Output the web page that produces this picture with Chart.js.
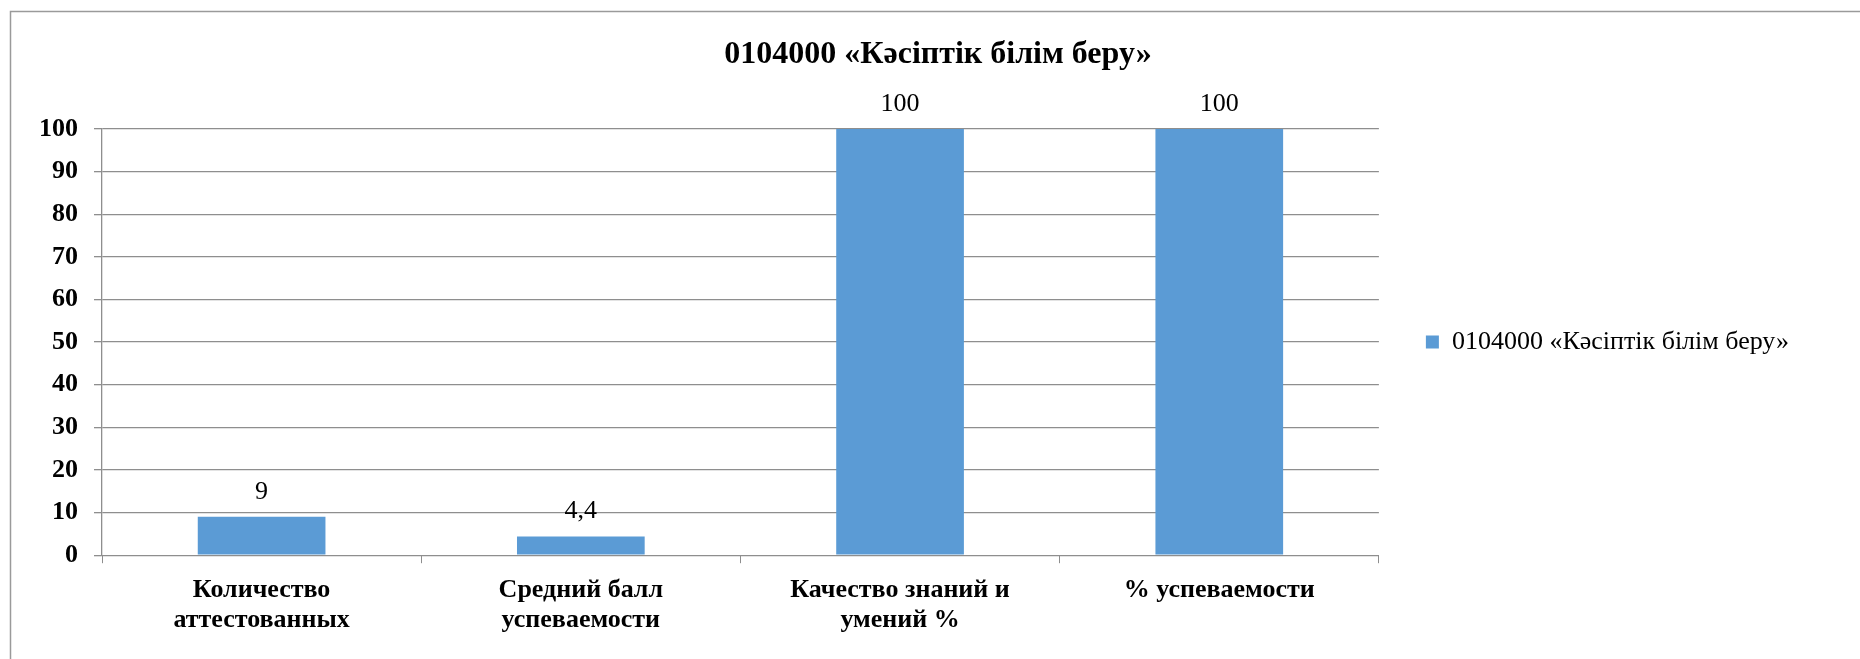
<!DOCTYPE html>
<html>
<head>
<meta charset="utf-8">
<script src="https://cdn.jsdelivr.net/npm/chart.js@4"></script>
<style>
  html, body { margin: 0; padding: 0; background: #fff; }
</style>
</head>
<body>
<canvas id="chart" width="1860" height="659"></canvas>
<script>
// Chart data
const categories = [
    ['Количество', 'аттестованных'],
    ['Средний балл', 'успеваемости'],
    ['Качество знаний и', 'умений %'],
    ['% успеваемости']
];
const seriesName = '0104000 «Кәсіптік білім беру»';
const seriesValues = [9, 4.4, 100, 100];
const yTicks = [0, 10, 20, 30, 40, 50, 60, 70, 80, 90, 100];

const serif = '"Liberation Serif", "Times New Roman", serif';
const gridColor = '#8e8e8e';

// white page, grey frame and the chart title (centred on the whole frame, not the plot)
const framePlugin = {
    id: 'frame',
    beforeDraw(chart) {
        const c = chart.ctx;
        c.save();
        c.fillStyle = '#fff';
        c.fillRect(0, 0, chart.width, chart.height);
        c.strokeStyle = '#9a9a9a';
        c.lineWidth = 1.5;
        c.beginPath();
        c.moveTo(10.5, chart.height + 2);
        c.lineTo(10.5, 11.5);
        c.lineTo(chart.width + 2, 11.5);
        c.stroke();

        c.font = 'bold 32px ' + serif;
        c.fillStyle = '#000';
        c.textAlign = 'center';
        c.textBaseline = 'middle';
        c.fillText(seriesName, 938, 55);
        c.restore();
    }
};

// value labels above the bars
const valueLabels = {
    id: 'valueLabels',
    afterDatasetsDraw(chart) {
        const c = chart.ctx;
        c.save();
        c.font = '26px ' + serif;
        c.fillStyle = '#000';
        c.textAlign = 'center';
        c.textBaseline = 'middle';
        chart.getDatasetMeta(0).data.forEach((bar, i) => {
            const v = chart.data.datasets[0].data[i];
            c.fillText(String(v).replace('.', ','), bar.x, bar.y - 25);
        });
        c.restore();
    }
};

new Chart(document.getElementById('chart'), {
    type: 'bar',
    data: {
        labels: categories,
        datasets: [{
            label: seriesName,
            data: seriesValues,
            backgroundColor: '#5b9bd5',
            barPercentage: 0.4,
            categoryPercentage: 1.0
        }]
    },
    options: {
        responsive: false,
        animation: false,
        layout: { padding: { left: 23, right: 61, top: 129, bottom: 12 } },
        plugins: {
            title: { display: false },
            legend: {
                position: 'right',
                fullSize: false,
                labels: {
                    color: '#000',
                    font: { family: serif, size: 26 },
                    boxWidth: 13,
                    boxHeight: 13,
                    padding: 47
                }
            },
            tooltip: { enabled: false }
        },
        scales: {
            x: {
                grid: { offset: true, drawOnChartArea: false, drawTicks: true, tickLength: 8, color: gridColor },
                border: { color: gridColor },
                ticks: {
                    color: '#000',
                    padding: 12,
                    maxRotation: 0,
                    autoSkip: false,
                    font: { family: serif, size: 26, weight: 'bold', lineHeight: 1.15 }
                }
            },
            y: {
                min: 0,
                max: 100,
                afterBuildTicks(scale) { scale.ticks = yTicks.map(v => ({ value: v })); },
                grid: { color: gridColor, tickLength: 8, lineWidth: 1.3 },
                border: { color: gridColor, width: 1.3 },
                ticks: {
                    color: '#000',
                    padding: 16,
                    callback: v => String(v),
                    font: { family: serif, size: 26, weight: 'bold' }
                }
            }
        }
    },
    plugins: [framePlugin, valueLabels]
});
</script>
</body>
</html>
